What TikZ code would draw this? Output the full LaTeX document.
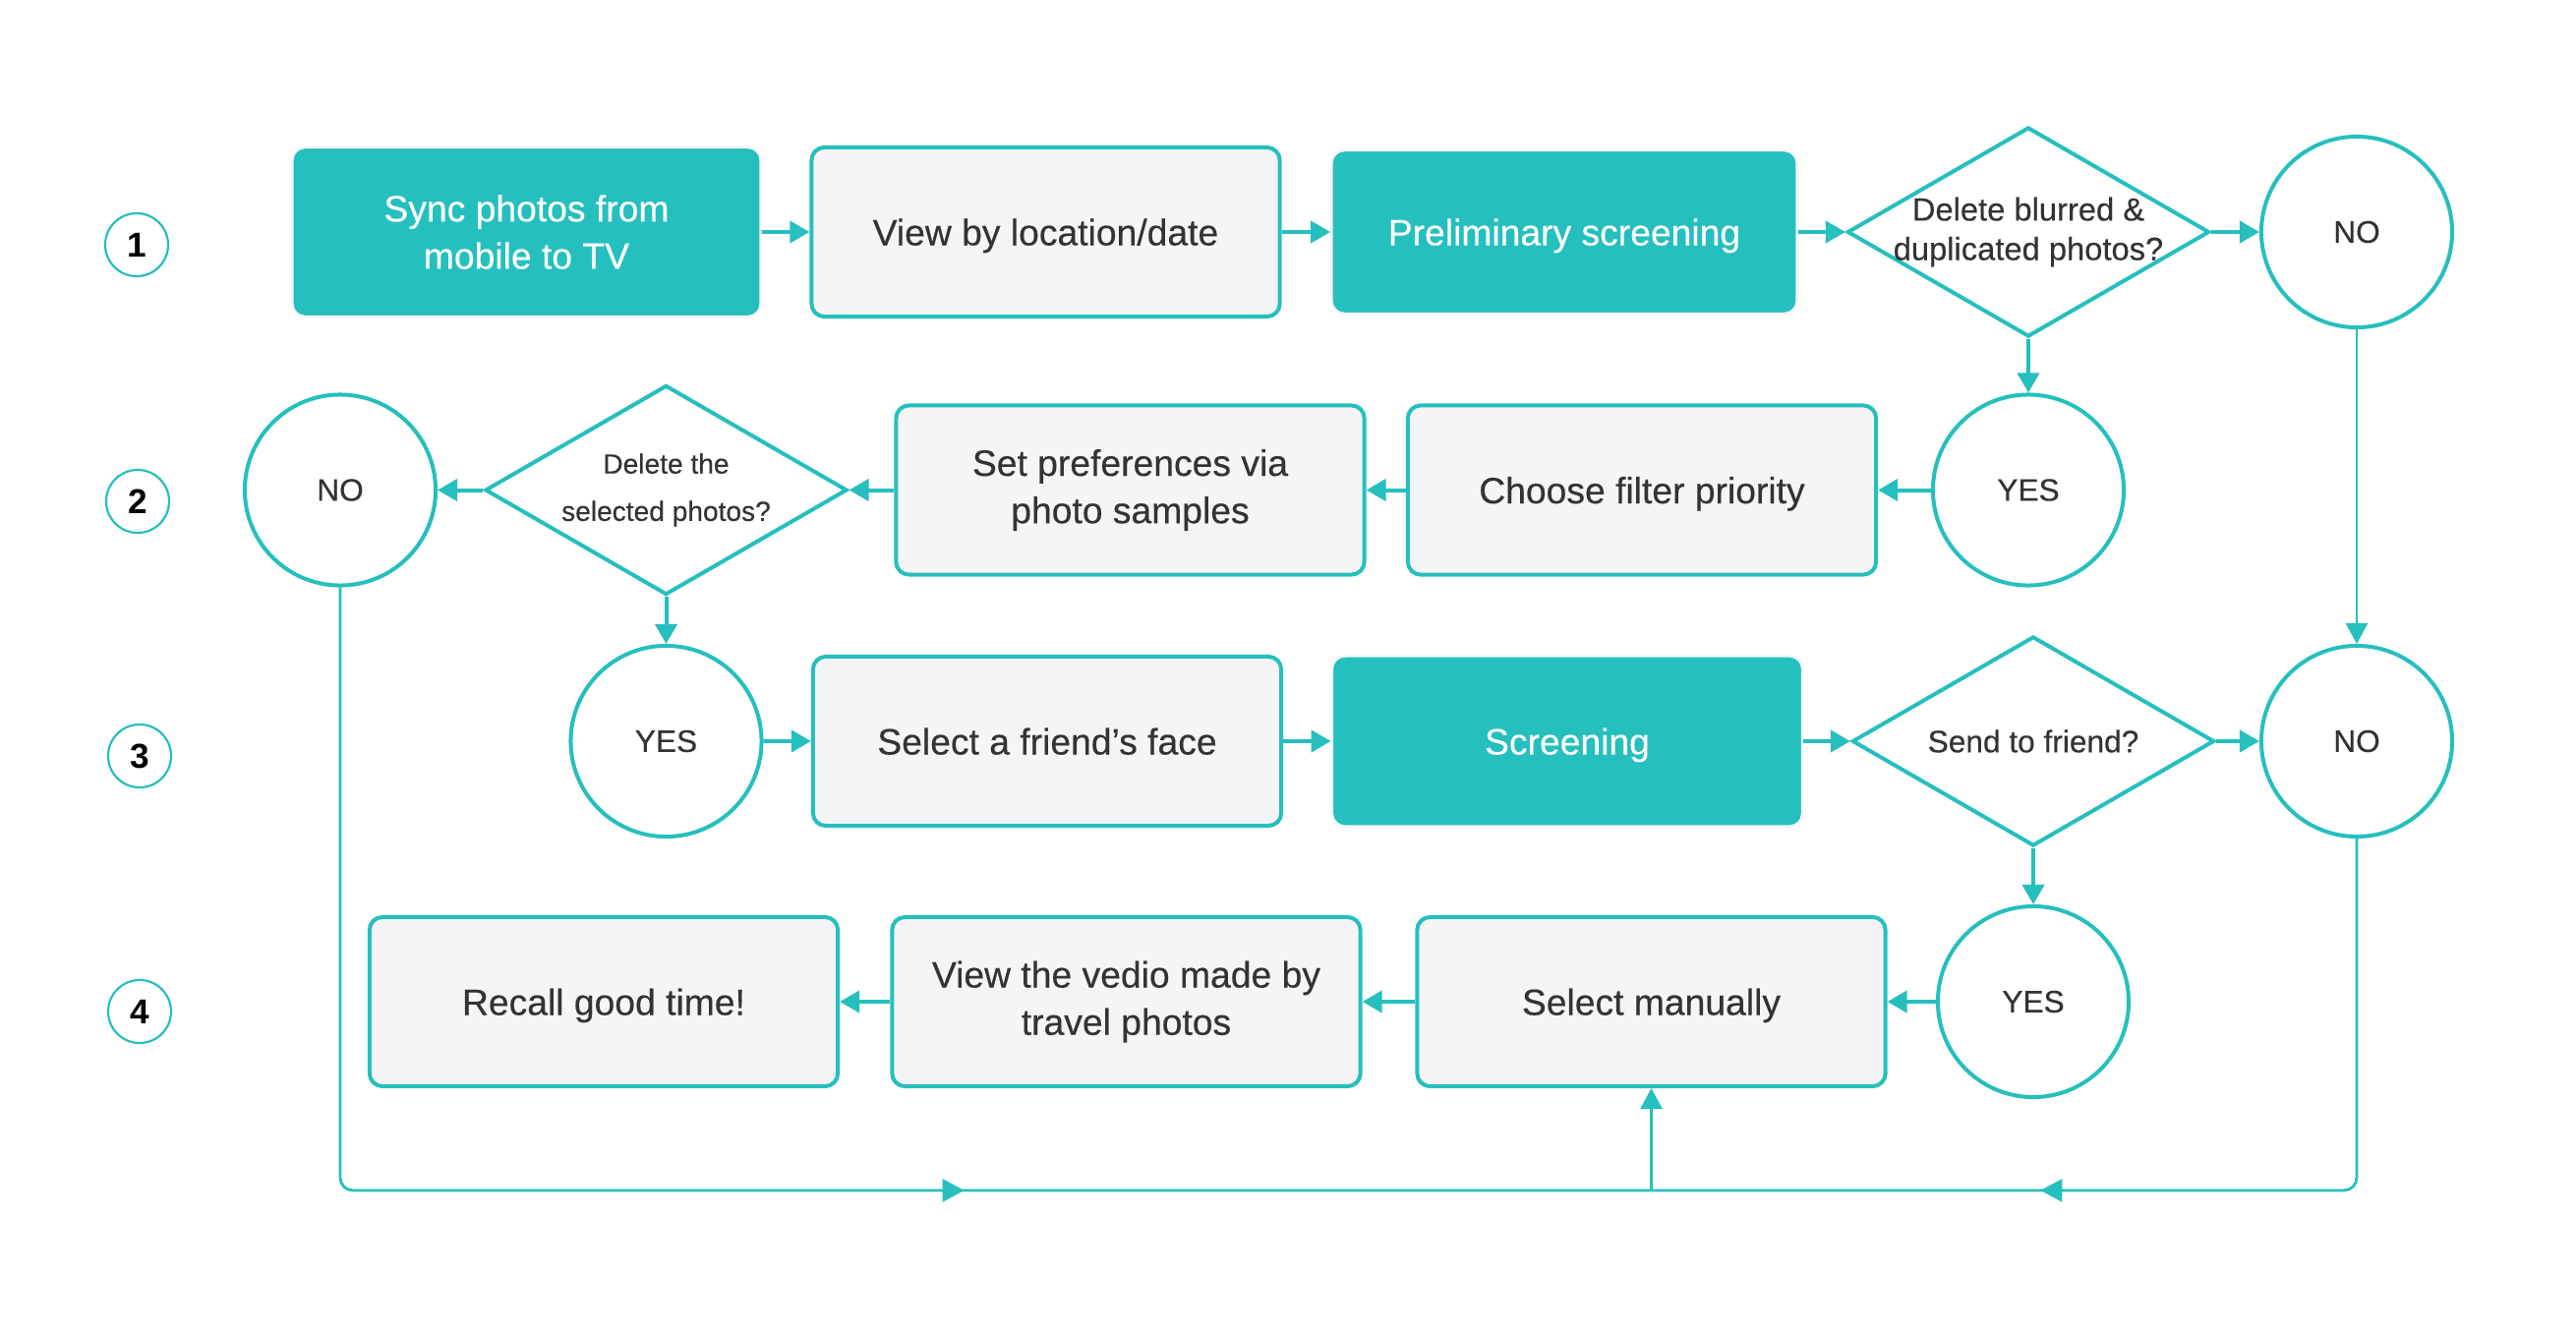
\documentclass[tikz,border=0pt]{standalone}
\usepackage{fontspec}
\setmainfont{Liberation Sans}
\newfontfamily\medfont{Liberation Sans}[FakeBold=0.35]
\usetikzlibrary{shapes.geometric,arrows.meta,decorations.markings}
\definecolor{teal1}{HTML}{25BFBE}
\definecolor{boxfill}{HTML}{F5F4F7}
\definecolor{txt}{HTML}{333333}
\begin{document}
\begin{tikzpicture}[x=0.01cm,y=-0.01cm,
 box/.style={rectangle, rounded corners=0.13cm, minimum width=4.76cm, minimum height=1.72cm, align=center, font=\medfont\fontsize{10.6}{13.7}\selectfont, inner sep=0pt},
 litebox/.style={box, fill=boxfill, draw=teal1, line width=0.04cm, text=txt},
 darkbox/.style={box, fill=teal1, draw=boxfill, line width=0.025cm, text=white},
 oneline/.style={text depth=0pt},
 circ/.style={circle, draw=teal1, line width=0.04cm, minimum size=1.94cm, inner sep=0pt, text=txt, font=\medfont\fontsize{9}{11}\selectfont},
 diam/.style={diamond, draw=teal1, line width=0.04cm, inner xsep=-1cm, inner ysep=-0.3cm, minimum width=3.68cm, minimum height=2.13cm, align=center, text=txt},
 num/.style={circle, draw=teal1, line width=0.022cm, minimum size=0.64cm, inner sep=0pt, font=\fontsize{10}{12}\selectfont\bfseries},
 arr/.style={draw=teal1, line width=0.04cm, -{Triangle[length=0.2cm,width=0.22cm]}},
 route/.style={draw=teal1, line width=0.028cm, rounded corners=0.13cm},
 routearr/.style={draw=teal1, line width=0.028cm, -{Triangle[length=0.21cm,width=0.22cm]}},
 midarrow/.style={postaction={decorate,decoration={markings,mark=at position #1 with {\arrow{Triangle[length=0.22cm,width=0.23cm]}}}}},
]
\useasboundingbox (0,0) rectangle (2620,1354);

% row numbers
\node[num] (n1) at (139,249) {1};
\node[num] (n2) at (140,510) {2};
\node[num] (n3) at (142,769) {3};
\node[num] (n4) at (142,1029) {4};

% row 1
\node[darkbox] (sync) at (535.5,236) {Sync photos from\\mobile to TV};
\node[litebox, oneline] (view) at (1063.5,236) {View by location/date};
\node[darkbox, oneline, minimum width=4.73cm, minimum height=1.66cm] (prelim) at (1591,236) {Preliminary screening};
\node[diam, font=\medfont\fontsize{9.3}{11.4}\selectfont] (d1) at (2063,236) {Delete blurred \&\\duplicated photos?};
\node[circ] (no1) at (2397,236) {NO};

% row 2
\node[circ] (yes2) at (2063,498.5) {YES};
\node[litebox, oneline] (filter) at (1670,498.5) {Choose filter priority};
\node[litebox] (pref) at (1149.5,498.5) {Set preferences via\\photo samples};
\node[diam, font=\medfont\fontsize{8}{13.7}\selectfont] (d2) at (677.5,498.5) {Delete the\\selected photos?};
\node[circ] (no2) at (346,498.5) {NO};

% row 3
\node[circ] (yes3) at (677.5,754) {YES};
\node[litebox, oneline] (friend) at (1065,754) {Select a friend’s face};
\node[darkbox, oneline, minimum width=4.78cm, minimum height=1.73cm] (screen) at (1594,754) {Screening};
\node[diam, font=\medfont\fontsize{9}{11}\selectfont] (d3) at (2068,754) {Send to friend?};
\node[circ] (no3) at (2397,754) {NO};

% row 4
\node[circ] (yes4) at (2068,1019) {YES};
\node[litebox, oneline] (selman) at (1679.5,1019) {Select manually};
\node[litebox] (vedio) at (1145.5,1019) {View the vedio made by\\travel photos};
\node[litebox, oneline] (recall) at (614,1019) {Recall good time!};

\coordinate (jn) at (1679.5,1211);

% connectors row 1
\draw[arr] (sync.east) -- (view.west);
\draw[arr] (view.east) -- (prelim.west);
\draw[arr] (prelim.east) -- (d1.west);
\draw[arr] (d1.east) -- (no1.west);
\draw[arr] (d1.south) -- (yes2.north);
% row 2
\draw[arr] (yes2.west) -- (filter.east);
\draw[arr] (filter.west) -- (pref.east);
\draw[arr] (pref.west) -- (d2.east);
\draw[arr] (d2.west) -- (no2.east);
\draw[arr] (d2.south) -- (yes3.north);
% row 3
\draw[arr] (yes3.east) -- (friend.west);
\draw[arr] (friend.east) -- (screen.west);
\draw[arr] (screen.east) -- (d3.west);
\draw[arr] (d3.east) -- (no3.west);
\draw[arr] (d3.south) -- (yes4.north);
% row 4
\draw[arr] (yes4.west) -- (selman.east);
\draw[arr] (selman.west) -- (vedio.east);
\draw[arr] (vedio.west) -- (recall.east);

% long routes
\draw[routearr] (no1.south) -- (no3.north);
\draw[route, midarrow=0.64] (no2.south) |- (jn);
\draw[route, midarrow=0.63] (no3.south) |- (jn);
\draw[routearr] (jn) -- (selman.south);
\end{tikzpicture}
\end{document}
